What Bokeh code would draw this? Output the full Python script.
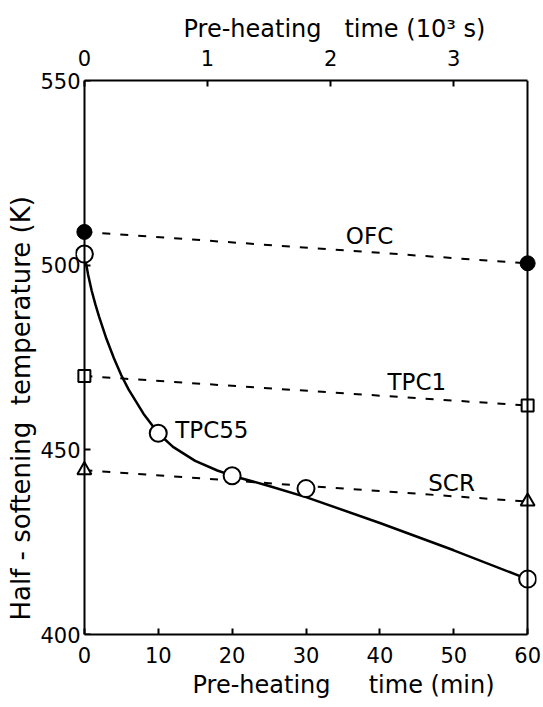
from bokeh.plotting import figure
from bokeh.models import Range1d, LinearAxis, FixedTicker, Title, ColumnDataSource
from bokeh.core.properties import value
from bokeh.embed import file_html
from bokeh.resources import INLINE

# ---- data ----
x_ticks = [0, 10, 20, 30, 40, 50, 60]          # min
ks_ticks = [0, 1, 2, 3]                          # 10^3 s
y_ticks = [400, 450, 500, 550]                   # K

ofc_t = [0, 60]
ofc_T = [509, 500.5]
tpc1_t = [0, 60]
tpc1_T = [470, 462]
scr_t = [0, 60]
scr_T = [444.5, 436]
tpc55_t = [0, 10, 20, 30, 60]
tpc55_T = [503, 454.5, 443, 439.5, 415]
# smooth curve drawn through TPC55
curve_t = [0, 0.5, 1, 1.5, 2, 3, 4, 5, 6, 8, 10, 12, 15, 18, 20, 25, 30, 40, 50, 60]
curve_T = [503, 497.5, 493, 489.3, 486, 480, 474.8, 470.2, 466.3, 459.8, 454.5, 450.8, 447, 444.4, 443,
           440.2, 437.2, 430.2, 422.8, 415]

series_names = ["OFC", "TPC1", "TPC55", "SCR"]

FONT = "DejaVu Sans"
NB = "\u00a0"

p = figure(frame_width=461, frame_height=554,
           x_range=Range1d(-1.2, 61.2), y_range=Range1d(400, 550),
           output_backend="svg", toolbar_location=None,
           min_border_left=75, min_border_right=7, min_border_top=80, min_border_bottom=73,
           x_axis_location=None, y_axis_location=None)
p.extra_x_ranges = {"ks": Range1d(-1.2 / 16.6667, 3.6 + 1.2 / 16.6667)}
p.grid.visible = False
p.outline_line_color = None
p.background_fill_color = "white"
p.border_fill_color = "white"


def style_axis(ax, standoff):
    ax.axis_line_width = 2
    ax.axis_line_color = "black"
    ax.major_tick_in = 6
    ax.major_tick_out = 0
    ax.major_tick_line_width = 2
    ax.minor_tick_line_color = None
    ax.major_label_text_font = FONT
    ax.major_label_text_font_size = "21px"
    ax.major_label_text_color = "black"
    ax.major_label_standoff = standoff


bottom = LinearAxis(ticker=FixedTicker(ticks=x_ticks), bounds=(0, 60))
style_axis(bottom, 12)
p.add_layout(bottom, "below")

top = LinearAxis(x_range_name="ks", ticker=FixedTicker(ticks=ks_ticks), bounds=(0, 3.6))
style_axis(top, 15)
p.add_layout(top, "above")

# left: labels on a plain axis at the frame edge, line + ticks on an axis fixed at t = 0
left_lab = LinearAxis(ticker=FixedTicker(ticks=y_ticks))
style_axis(left_lab, -5)
left_lab.axis_line_color = None
left_lab.major_tick_line_color = None
p.add_layout(left_lab, "left")

left = LinearAxis(ticker=FixedTicker(ticks=y_ticks), bounds=(400, 550), fixed_location=0)
style_axis(left, 0)
left.major_label_text_color = None
p.add_layout(left, "left")

right = LinearAxis(ticker=FixedTicker(ticks=[]), bounds=(400, 550), fixed_location=60)
style_axis(right, 0)
right.major_label_text_color = None
p.add_layout(right, "right")

# axis titles
p.add_layout(Title(text="Pre-heating" + NB * 5 + "time (min)", align="left", offset=117,
                   text_font=FONT, text_font_size="24px", text_font_style="normal",
                   text_color="black", standoff=6), "below")
p.add_layout(Title(text="Pre-heating" + NB * 3 + "time (10³ s)", align="left", offset=108,
                   text_font=FONT, text_font_size="24px", text_font_style="normal",
                   text_color="black", standoff=8), "above")
p.add_layout(Title(text="Half - softening" + NB * 2 + "temperature (K)", align="left", offset=14,
                   text_font=FONT, text_font_size="26px", text_font_style="normal",
                   text_color="black", standoff=4), "left")

# dashed lines
dash = "8 10"
p.line(ofc_t, ofc_T, line_color="black", line_width=2, line_dash=dash)
p.line(tpc1_t, tpc1_T, line_color="black", line_width=2, line_dash=dash)
p.line(scr_t, scr_T, line_color="black", line_width=2, line_dash=dash)
# solid curve
p.line(curve_t, curve_T, line_color="black", line_width=2.5)

# markers
p.scatter(ofc_t, ofc_T, marker="circle", size=15, fill_color="black", line_color="black")
p.scatter(tpc1_t, tpc1_T, marker="square", size=12, fill_color="white", line_color="black", line_width=2)
p.scatter(scr_t, scr_T, marker="triangle", size=14, fill_color="white", line_color="black", line_width=2)
p.scatter(tpc55_t, tpc55_T, marker="circle", size=17, fill_color="white", line_color="black", line_width=2)

# series labels
lab_src = ColumnDataSource(dict(x=[38.6, 45.0, 12.3, 49.7], y=[507.8, 468.5, 455.5, 441.0],
                                text=series_names, align=["center", "center", "left", "center"]))
p.text(x="x", y="y", text="text", source=lab_src, text_align="align", text_baseline="middle",
       text_font=value(FONT), text_font_size="23px", text_color="black")

open("out.html", "w").write(file_html(p, INLINE))
